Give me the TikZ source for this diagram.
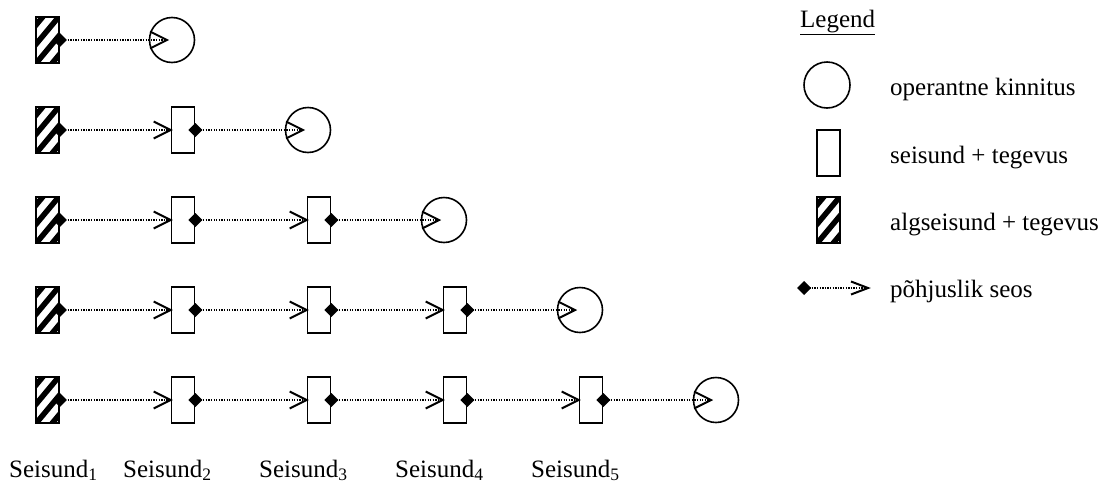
\documentclass[tikz,border=0pt]{standalone}
\usepackage{fontspec}
\setmainfont{Liberation Serif}[Scale=2.5]
\usetikzlibrary{decorations.markings}

\newcommand\stateidx[1]{\raisebox{-3pt}{\scriptsize #1}}

\tikzset{
  boxline/.style={draw, line width=1.6pt},
  statebox/.style={boxline, rectangle, minimum width=23pt, minimum height=46pt, inner sep=0pt, fill=white},
  startbox/.style={statebox, path picture={
      \begin{scope}[x=1pt, y=-1pt, shift={(path picture bounding box.center)}]
        \foreach \k in {-56,-40,...,56}
          \draw[line width=5.5pt] (\k-25,30) -- (\k+25,-30);
      \end{scope}}},
  reinf/.style={boxline, circle, minimum size=45pt, inner sep=0pt},
  % causal link: dotted line, solid diamond at the start, open barb at the end
  link/.style={line width=1.3pt, dash pattern=on 1.3pt off 1.3pt,
      postaction={decorate, decoration={markings,
        mark=at position 0 with {\fill[solid] (-7pt,0) -- (0,7pt) -- (7pt,0) -- (0,-7pt) -- cycle;},
        mark=at position 1 with {\draw[solid, line width=2pt, line join=miter]
            (-17pt,#1) -- (0,0) -- (-17pt,-#1);}}}},
  link/.default=8.5pt,
  txt/.style={inner sep=0pt, anchor=base west},
}

\begin{document}
\begin{tikzpicture}[x=1pt, y=-1pt]
\useasboundingbox (0,0) rectangle (1107,485);

% row 1
\node[startbox] (s11) at (47.5,40) {};
\node[reinf] (k1) at (172,40) {};
\draw[link] (s11.east) -- ([xshift=-5pt]k1.center);

% row 2
\node[startbox] (s21) at (47.5,130) {};
\node[statebox] (s22) at (183,130) {};
\node[reinf] (k2) at (308,130) {};
\draw[link] (s21.east) -- (s22.west);
\draw[link] (s22.east) -- ([xshift=-5pt]k2.center);

% row 3
\node[startbox] (s31) at (47.5,220) {};
\node[statebox] (s32) at (183,220) {};
\node[statebox] (s33) at (319,220) {};
\node[reinf] (k3) at (444,220) {};
\draw[link] (s31.east) -- (s32.west);
\draw[link] (s32.east) -- (s33.west);
\draw[link] (s33.east) -- ([xshift=-5pt]k3.center);

% row 4
\node[startbox] (s41) at (47.5,310) {};
\node[statebox] (s42) at (183,310) {};
\node[statebox] (s43) at (319,310) {};
\node[statebox] (s44) at (455,310) {};
\node[reinf] (k4) at (580,310) {};
\draw[link] (s41.east) -- (s42.west);
\draw[link] (s42.east) -- (s43.west);
\draw[link] (s43.east) -- (s44.west);
\draw[link] (s44.east) -- ([xshift=-5pt]k4.center);

% row 5
\node[startbox] (s51) at (47.5,400) {};
\node[statebox] (s52) at (183,400) {};
\node[statebox] (s53) at (319,400) {};
\node[statebox] (s54) at (455,400) {};
\node[statebox] (s55) at (591,400) {};
\node[reinf] (k5) at (716,400) {};
\draw[link] (s51.east) -- (s52.west);
\draw[link] (s52.east) -- (s53.west);
\draw[link] (s53.east) -- (s54.west);
\draw[link] (s54.east) -- (s55.west);
\draw[link] (s55.east) -- ([xshift=-5pt]k5.center);

% state labels
\node[txt] (l1) at (9,477) {Seisund\stateidx{1}};
\node[txt] (l2) at (123,477) {Seisund\stateidx{2}};
\node[txt] (l3) at (259,477) {Seisund\stateidx{3}};
\node[txt] (l4) at (395,477) {Seisund\stateidx{4}};
\node[txt] (l5) at (531,477) {Seisund\stateidx{5}};

% legend
\node[txt] (lg) at (800,27) {\underline{Legend}};
\node[reinf, minimum size=46pt] (lgc) at (827,85) {};
\node[txt] (lgct) at (890,95) {operantne kinnitus};
\node[statebox] (lgb) at (828.5,153) {};
\node[txt] (lgbt) at (890,163) {seisund + tegevus};
\node[startbox] (lgh) at (828.5,220) {};
\node[txt] (lght) at (890,230) {algseisund + tegevus};
\coordinate (la) at (804,288);
\coordinate (lb) at (868,288);
\draw[link=6.5pt] (la) -- (lb);
\node[txt] (lgat) at (890,297) {põhjuslik seos};
\end{tikzpicture}
\end{document}
